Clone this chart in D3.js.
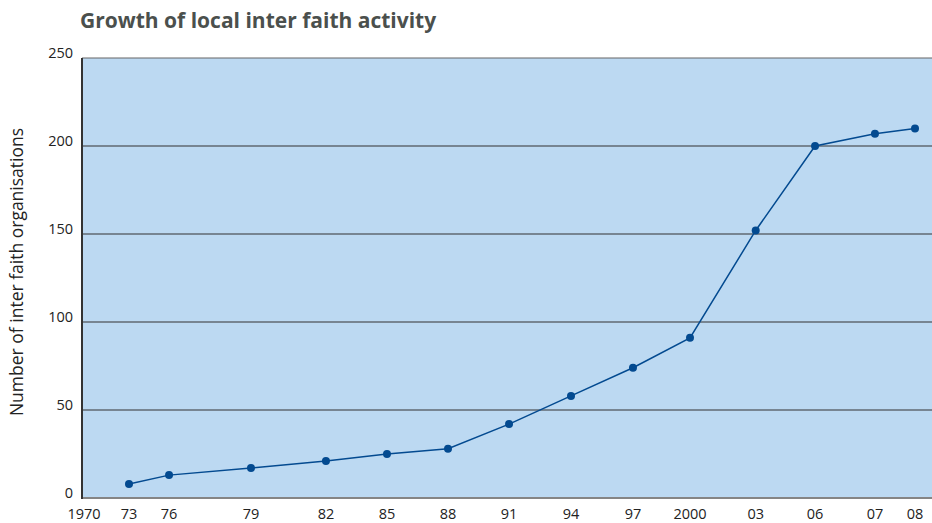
<!DOCTYPE html>
<html>
<head>
<meta charset="utf-8">
<script src="https://cdn.jsdelivr.net/npm/d3@7"></script>
<style>
  body { margin: 0; background: #fff; }
  svg { display: block; }
</style>
</head>
<body>
<div class="display"></div>
<script>
// data
const years = [1973, 1976, 1979, 1982, 1985, 1988, 1991, 1994, 1997, 2000, 2003, 2006, 2007, 2008];
const counts = [8, 13, 17, 21, 25, 28, 42, 58, 74, 91, 152, 200, 207, 210];
const tickYears = [1970, 1973, 1976, 1979, 1982, 1985, 1988, 1991, 1994, 1997, 2000, 2003, 2006, 2007, 2008];
const tickLabels = ['1970', '73', '76', '79', '82', '85', '88', '91', '94', '97', '2000', '03', '06', '07', '08'];
const yTicks = [0, 50, 100, 150, 200, 250];

const width = 932;
const height = 523;
const margin = { top: 58, right: 0, bottom: 25, left: 82 };
const plotW = width - margin.left - margin.right;

// the original axis is not evenly spaced, so the x scale is piecewise
const slotFractions = [0, 0.0553, 0.1024, 0.1988, 0.287, 0.3588, 0.4306, 0.5024, 0.5753, 0.6482, 0.7153, 0.7926, 0.8624, 0.9329, 0.98];

const svg = d3.select('.display')
  .append('svg')
  .attr('width', width)
  .attr('height', height);

const xScale = d3.scaleLinear()
  .domain(tickYears)
  .range(slotFractions.map(f => margin.left + f * plotW));

const yScale = d3.scaleLinear()
  .domain([0, 250])
  .range([height - margin.bottom, margin.top]);

svg.append('rect')
  .attr('x', margin.left)
  .attr('y', margin.top)
  .attr('width', plotW)
  .attr('height', yScale(0) - margin.top)
  .attr('fill', '#bcd9f2');

// gridlines
svg.append('g')
  .selectAll('line')
  .data(yTicks.filter(d => d > 0))
  .enter()
  .append('line')
  .attr('x1', margin.left)
  .attr('x2', width)
  .attr('y1', d => yScale(d))
  .attr('y2', d => yScale(d))
  .attr('stroke', d => d === 250 ? '#666' : '#333')
  .attr('stroke-width', 1.2);

// axis lines
svg.append('line')
  .attr('x1', margin.left)
  .attr('x2', width)
  .attr('y1', yScale(0))
  .attr('y2', yScale(0))
  .attr('stroke', '#858585')
  .attr('stroke-width', 2);

svg.append('line')
  .attr('x1', margin.left)
  .attr('x2', margin.left)
  .attr('y1', margin.top)
  .attr('y2', yScale(0) + 1)
  .attr('stroke', '#333')
  .attr('stroke-width', 2);

// y tick labels
svg.append('g')
  .selectAll('text')
  .data(yTicks)
  .enter()
  .append('text')
  .attr('x', 73)
  .attr('y', d => yScale(d) - 5)
  .attr('dy', '0.35em')
  .attr('text-anchor', 'end')
  .attr('font-family', 'Open Sans, sans-serif')
  .attr('font-size', 14.5)
  .attr('fill', '#222')
  .text(d => d);

// x tick labels
svg.append('g')
  .selectAll('text')
  .data(tickYears)
  .enter()
  .append('text')
  .attr('x', (d, i) => i === 0 ? xScale(d) + 2 : xScale(d))
  .attr('y', 519)
  .attr('text-anchor', 'middle')
  .attr('font-family', 'Open Sans, sans-serif')
  .attr('font-size', 14.5)
  .attr('fill', '#222')
  .text((d, i) => tickLabels[i]);

const points = years.map((y, i) => ({ year: y, value: counts[i] }));

const line = d3.line()
  .x(d => xScale(d.year))
  .y(d => yScale(d.value));

svg.append('path')
  .datum(points)
  .attr('d', line)
  .attr('fill', 'none')
  .attr('stroke', '#034a90')
  .attr('stroke-width', 1.5);

svg.selectAll('circle')
  .data(points)
  .enter()
  .append('circle')
  .attr('cx', d => xScale(d.year))
  .attr('cy', d => yScale(d.value))
  .attr('r', 4)
  .attr('fill', '#034a90');

svg.append('text')
  .attr('transform', `translate(23, ${272}) rotate(-90)`)
  .attr('text-anchor', 'middle')
  .attr('font-family', 'Open Sans, sans-serif')
  .attr('font-size', 17.5)
  .attr('fill', '#222')
  .text('Number of inter faith organisations');

svg.append('text')
  .attr('x', 80)
  .attr('y', 28)
  .attr('font-family', 'Open Sans, sans-serif')
  .attr('font-weight', 'bold')
  .attr('font-size', 21)
  .attr('fill', '#4b504d')
  .text('Growth of local inter faith activity');
</script>
</body>
</html>
